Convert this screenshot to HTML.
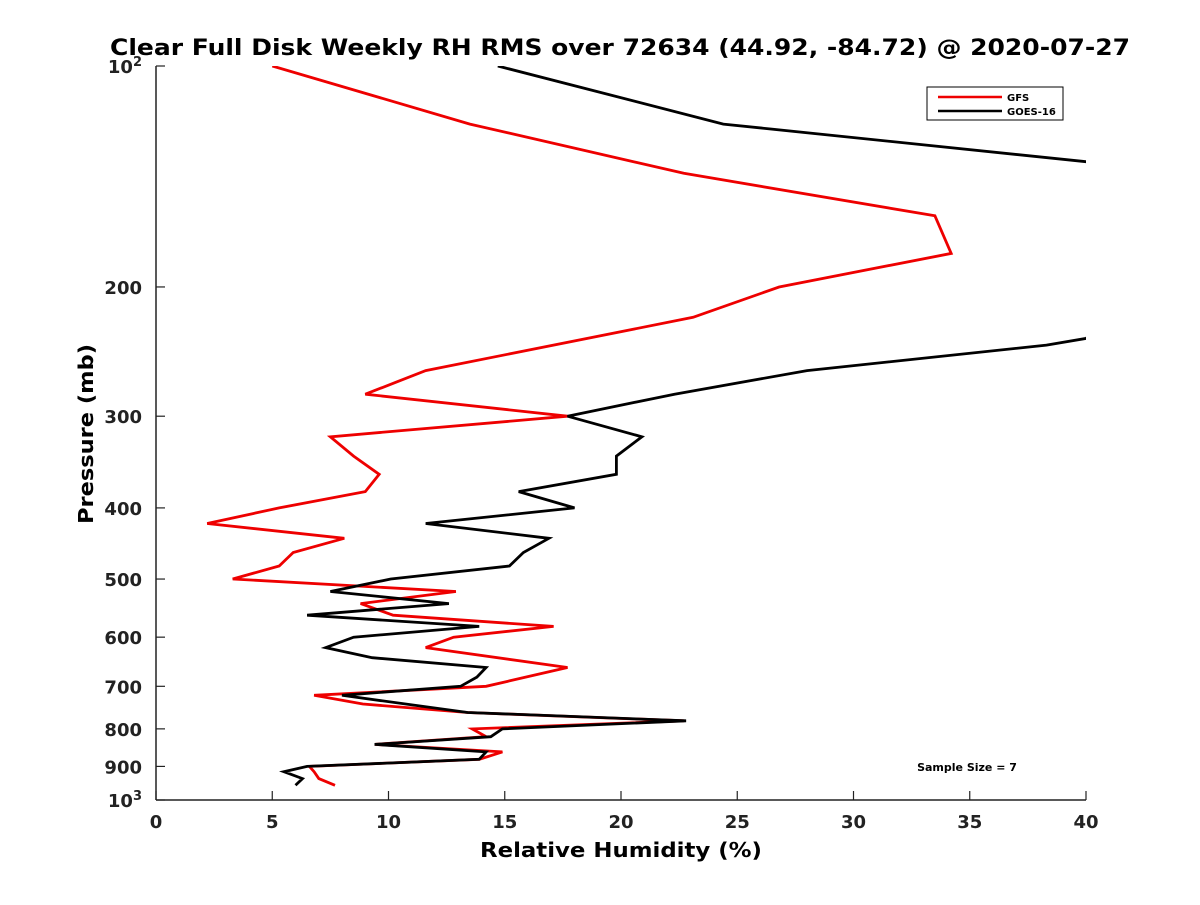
<!DOCTYPE html>
<html><head><meta charset="utf-8"><style>
body{margin:0;background:#fff}
text{font-family:"DejaVu Sans","Liberation Sans",sans-serif;font-weight:bold}
</style></head><body>
<svg id="chart" width="1200" height="900" xmlns="http://www.w3.org/2000/svg">
<rect width="1200" height="900" fill="#fff"/>
<defs><clipPath id="plotclip"><rect x="156" y="66" width="930" height="734"/></clipPath></defs>
<text x="620" y="55" text-anchor="middle" font-size="22" textLength="1020" lengthAdjust="spacingAndGlyphs">Clear Full Disk Weekly RH RMS over 72634 (44.92, -84.72) @ 2020-07-27</text>
<g id="axes"></g>
<g id="series" clip-path="url(#plotclip)"></g>
<text x="621" y="857" text-anchor="middle" font-size="20" textLength="282" lengthAdjust="spacingAndGlyphs">Relative Humidity (%)</text>
<text transform="translate(93,434) rotate(-90)" text-anchor="middle" font-size="20" textLength="180" lengthAdjust="spacingAndGlyphs">Pressure (mb)</text>
<g>
<rect x="927" y="87" width="136" height="33" fill="#fff" stroke="#000" stroke-width="1"/>
<line x1="938" y1="97" x2="1002" y2="97" stroke="#e00" stroke-width="2.5"/>
<text x="1007" y="101" font-size="10">GFS</text>
<line x1="938" y1="111" x2="1002" y2="111" stroke="#000" stroke-width="2.5"/>
<text x="1007" y="115" font-size="10">GOES-16</text>
</g>
<text x="967" y="771" text-anchor="middle" font-size="11">Sample Size = 7</text>
</svg>
<script>
const xTicks=[0,5,10,15,20,25,30,35,40];
const yTicks=[100,200,300,400,500,600,700,800,900,1000];
const yTickLabels=["10","200","300","400","500","600","700","800","900","10"];
const yTickSup=["2","","","","","","","","","3"];
const gfsPressure=[100,120,140,160,180,200,220,260,280,300,320,340,360,380,400,420,440,460,480,500,520,540,560,580,600,620,660,700,720,740,760,780,800,820,840,860,880,900,915,935,955];
const gfsRH=[5.0,13.5,22.7,33.5,34.2,26.8,23.1,11.6,9.0,17.7,7.5,8.5,9.6,9.0,5.3,2.2,8.1,5.9,5.3,3.3,12.9,8.8,10.2,17.1,12.8,11.6,17.7,14.2,6.8,8.9,13.4,22.7,13.6,14.2,9.4,14.9,13.9,6.6,6.8,7.0,7.7];
const goesPressure=[100,120,135,170,235,240,260,280,300,320,340,360,380,400,420,440,460,480,500,520,540,560,580,600,620,640,660,680,700,720,760,780,800,820,840,860,880,900,915,935,955];
const goesRH=[14.7,24.4,40,46,40,38.3,28.0,22.3,17.7,20.9,19.8,19.8,15.6,18.0,11.6,16.9,15.8,15.2,10.1,7.5,12.6,6.5,13.9,8.5,7.3,9.3,14.2,13.8,13.1,8.0,13.4,22.8,14.9,14.4,9.4,14.2,13.9,6.5,5.5,6.3,6.0];
const X0=156,X1=1086,Y0=66,Y1=800;
function xs(v){return X0+(v-0)/(40-0)*(X1-X0);}
function ys(p){return Y0+(Math.log10(p)-2)*(Y1-Y0);}
const NS="http://www.w3.org/2000/svg";
const axes=document.getElementById('axes');
function mk(tag,attrs,parent){const e=document.createElementNS(NS,tag);for(const k in attrs)e.setAttribute(k,attrs[k]);parent.appendChild(e);return e;}
let l=mk('line',{x1:X0,y1:Y0,x2:X0,y2:Y1,stroke:'#222','stroke-width':1.5},axes);


l=mk('line',{x1:X0,y1:Y1,x2:X1,y2:Y1,stroke:'#222','stroke-width':1.5},axes);


xTicks.forEach(v=>{const x=xs(v);
 mk('line',{x1:x,y1:Y1,x2:x,y2:Y1-9,stroke:'#222','stroke-width':1.2},axes);
 const t=mk('text',{x:x,y:Y1+28,'text-anchor':'middle','font-size':18,fill:'#222'},axes);
 t.textContent=v;
 
 
});
yTicks.forEach((p,i)=>{const y=ys(p);
 mk('line',{x1:X0,y1:y,x2:X0+9,y2:y,stroke:'#222','stroke-width':1.2},axes);
 const t=mk('text',{x:X0-14,y:y+7,'text-anchor':'end','font-size':18,fill:'#222'},axes);
 t.textContent=yTickLabels[i];
 if(yTickSup[i]){const s=mk('tspan',{dy:-7,'font-size':13},t);s.textContent=yTickSup[i];}
 
 
});
const ser=document.getElementById('series');
function line(P,V,color,name){
 const pts=P.map((p,i)=>xs(V[i]).toFixed(1)+','+ys(p).toFixed(1)).join(' ');
 const pl=mk('polyline',{points:pts,fill:'none',stroke:color,'stroke-width':2.8,'stroke-linejoin':'miter'},ser);
 
 
}
line(gfsPressure,gfsRH,'#e00','gfs-line');
line(goesPressure,goesRH,'#000','goes16-line');
</script>
</body></html>
